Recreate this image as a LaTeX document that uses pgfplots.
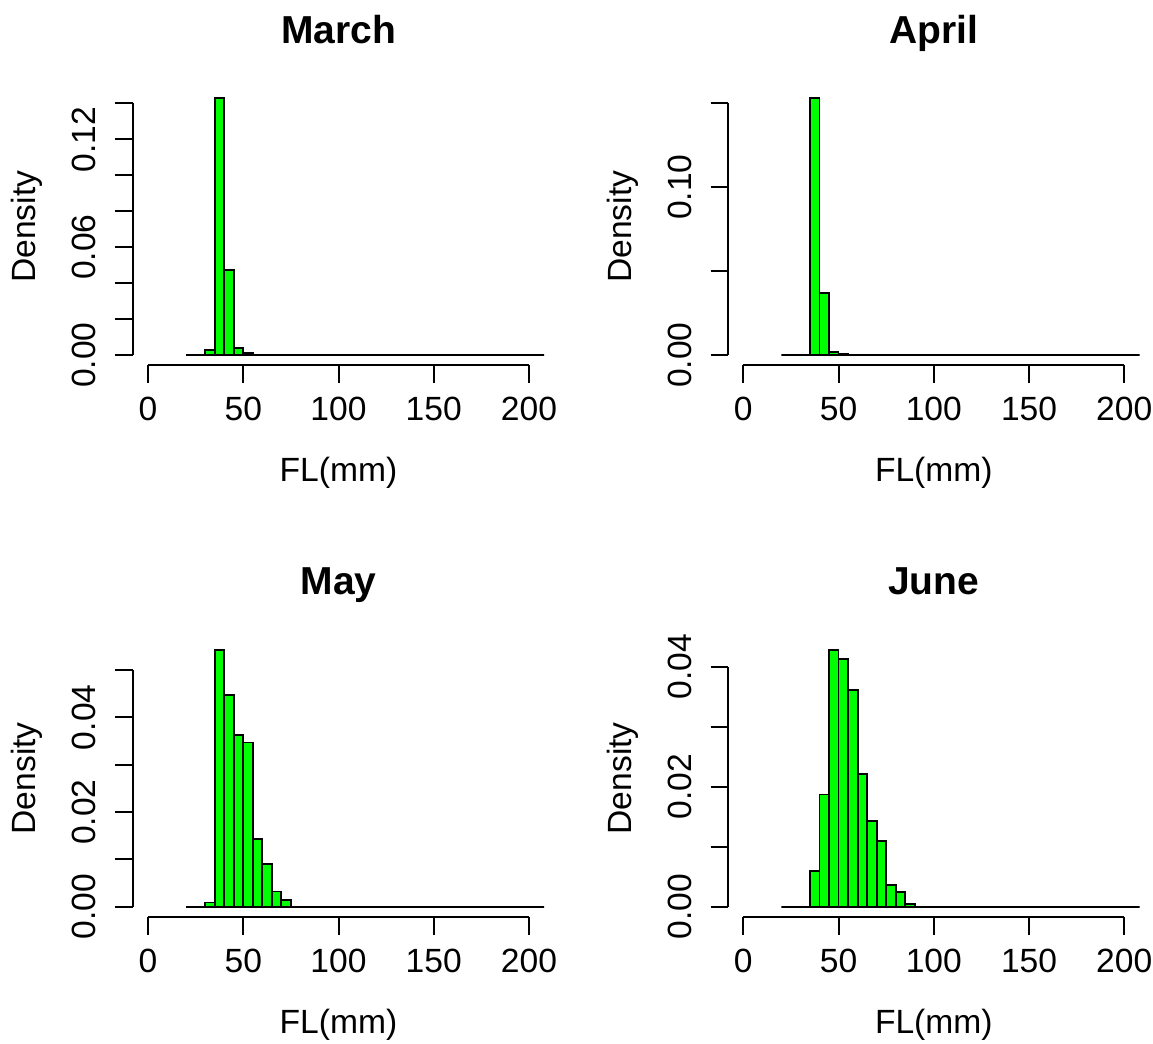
\documentclass[border=0pt]{standalone}
\usepackage{pgfplots}
\pgfplotsset{compat=1.18}
\usepackage{fontspec}
\setmainfont{Liberation Sans}

% R-like histogram panels
\pgfplotsset{
  rhist/.style={
    scale only axis, width=205.7pt, height=138.6pt,
    anchor=south west,
    xmin=-8, xmax=208,
    clip mode=individual,
    axis x line*=bottom, axis y line*=left,
    axis line style={draw=none},
    xtick={0,50,...,200},
    scaled y ticks=false,
    tick align=outside, major tick length=8.8pt,
    tick style={black, line width=1pt},
    font=\fontsize{16.8}{20}\selectfont,
    /pgf/number format/assume math mode=true,
    xticklabel style={anchor=north},
    yticklabel style={rotate=90, anchor=south},
    xticklabel shift=3.5pt,
    yticklabel shift=6pt,
    xlabel={FL(mm)}, ylabel={Density},
    xlabel style={at={(axis description cs:0.5,-0.42)}, anchor=base},
    ylabel style={at={(axis description cs:-0.2353,0.5)}, anchor=base},
    title style={at={(axis description cs:0.5,1)}, anchor=base, yshift=16.5pt,
      font=\fontsize{19.5}{23}\selectfont\bfseries},
  },
  rbars/.style={ybar interval, draw=black, fill=green, line width=0.9pt},
}

\pgfplotstableread{
x y
20 0
25 0
30 0.0028
35 0.1428
40 0.0473
45 0.0040
50 0.0012
55 0
60 0
65 0
70 0
75 0
80 0
85 0
90 0
95 0
100 0
105 0
110 0
115 0
120 0
125 0
130 0
135 0
140 0
145 0
150 0
155 0
160 0
165 0
170 0
175 0
180 0
185 0
190 0
195 0
200 0
205 0
210 0
}\march

\pgfplotstableread{
x y
20 0
25 0
30 0
35 0.1530
40 0.0371
45 0.0020
50 0.0008
55 0
60 0
65 0
70 0
75 0
80 0
85 0
90 0
95 0
100 0
105 0
110 0
115 0
120 0
125 0
130 0
135 0
140 0
145 0
150 0
155 0
160 0
165 0
170 0
175 0
180 0
185 0
190 0
195 0
200 0
205 0
210 0
}\april

\pgfplotstableread{
x y
20 0
25 0
30 0.0009
35 0.0542
40 0.0447
45 0.0362
50 0.0347
55 0.0143
60 0.0090
65 0.0032
70 0.0014
75 0
80 0
85 0
90 0
95 0
100 0
105 0
110 0
115 0
120 0
125 0
130 0
135 0
140 0
145 0
150 0
155 0
160 0
165 0
170 0
175 0
180 0
185 0
190 0
195 0
200 0
205 0
210 0
}\may

\pgfplotstableread{
x y
20 0
25 0
30 0
35 0.0059
40 0.0187
45 0.0428
50 0.0413
55 0.0362
60 0.0221
65 0.0143
70 0.0109
75 0.0036
80 0.0024
85 0.0004
90 0
95 0
100 0
105 0
110 0
115 0
120 0
125 0
130 0
135 0
140 0
145 0
150 0
155 0
160 0
165 0
170 0
175 0
180 0
185 0
190 0
195 0
200 0
205 0
210 0
}\june

\begin{document}
\begin{tikzpicture}
\useasboundingbox (0,0) rectangle (576.5pt,522pt);

\begin{axis}[rhist, at={(66.4pt,339.35pt)}, title={March},
    ymin=-0.00571, ymax=0.14851,
    ytick={0,0.02,...,0.14}, yticklabels={0.00,,,0.06,,,0.12,}]
  \addplot[rbars] table {\march};
  \draw[line width=1pt] (axis cs:0,-0.00571) -- (axis cs:200,-0.00571);
  \draw[line width=1pt] (axis cs:-8,0) -- (axis cs:-8,0.14);
\end{axis}

\begin{axis}[rhist, at={(364.05pt,339.35pt)}, title={April},
    ymin=-0.00612, ymax=0.15912,
    ytick={0,0.05,0.10,0.15}, yticklabels={0.00,,0.10,}]
  \addplot[rbars] table {\april};
  \draw[line width=1pt] (axis cs:0,-0.00612) -- (axis cs:200,-0.00612);
  \draw[line width=1pt] (axis cs:-8,0) -- (axis cs:-8,0.15);
\end{axis}

\begin{axis}[rhist, at={(66.4pt,63.5pt)}, title={May},
    ymin=-0.00217, ymax=0.05637,
    ytick={0,0.01,...,0.05}, yticklabels={0.00,,0.02,,0.04,}]
  \addplot[rbars] table {\may};
  \draw[line width=1pt] (axis cs:0,-0.00217) -- (axis cs:200,-0.00217);
  \draw[line width=1pt] (axis cs:-8,0) -- (axis cs:-8,0.05);
\end{axis}

\begin{axis}[rhist, at={(364.05pt,63.5pt)}, title={June},
    ymin=-0.00171, ymax=0.04451,
    ytick={0,0.01,...,0.04}, yticklabels={0.00,,0.02,,0.04}]
  \addplot[rbars] table {\june};
  \draw[line width=1pt] (axis cs:0,-0.00171) -- (axis cs:200,-0.00171);
  \draw[line width=1pt] (axis cs:-8,0) -- (axis cs:-8,0.04);
\end{axis}
\end{tikzpicture}
\end{document}
